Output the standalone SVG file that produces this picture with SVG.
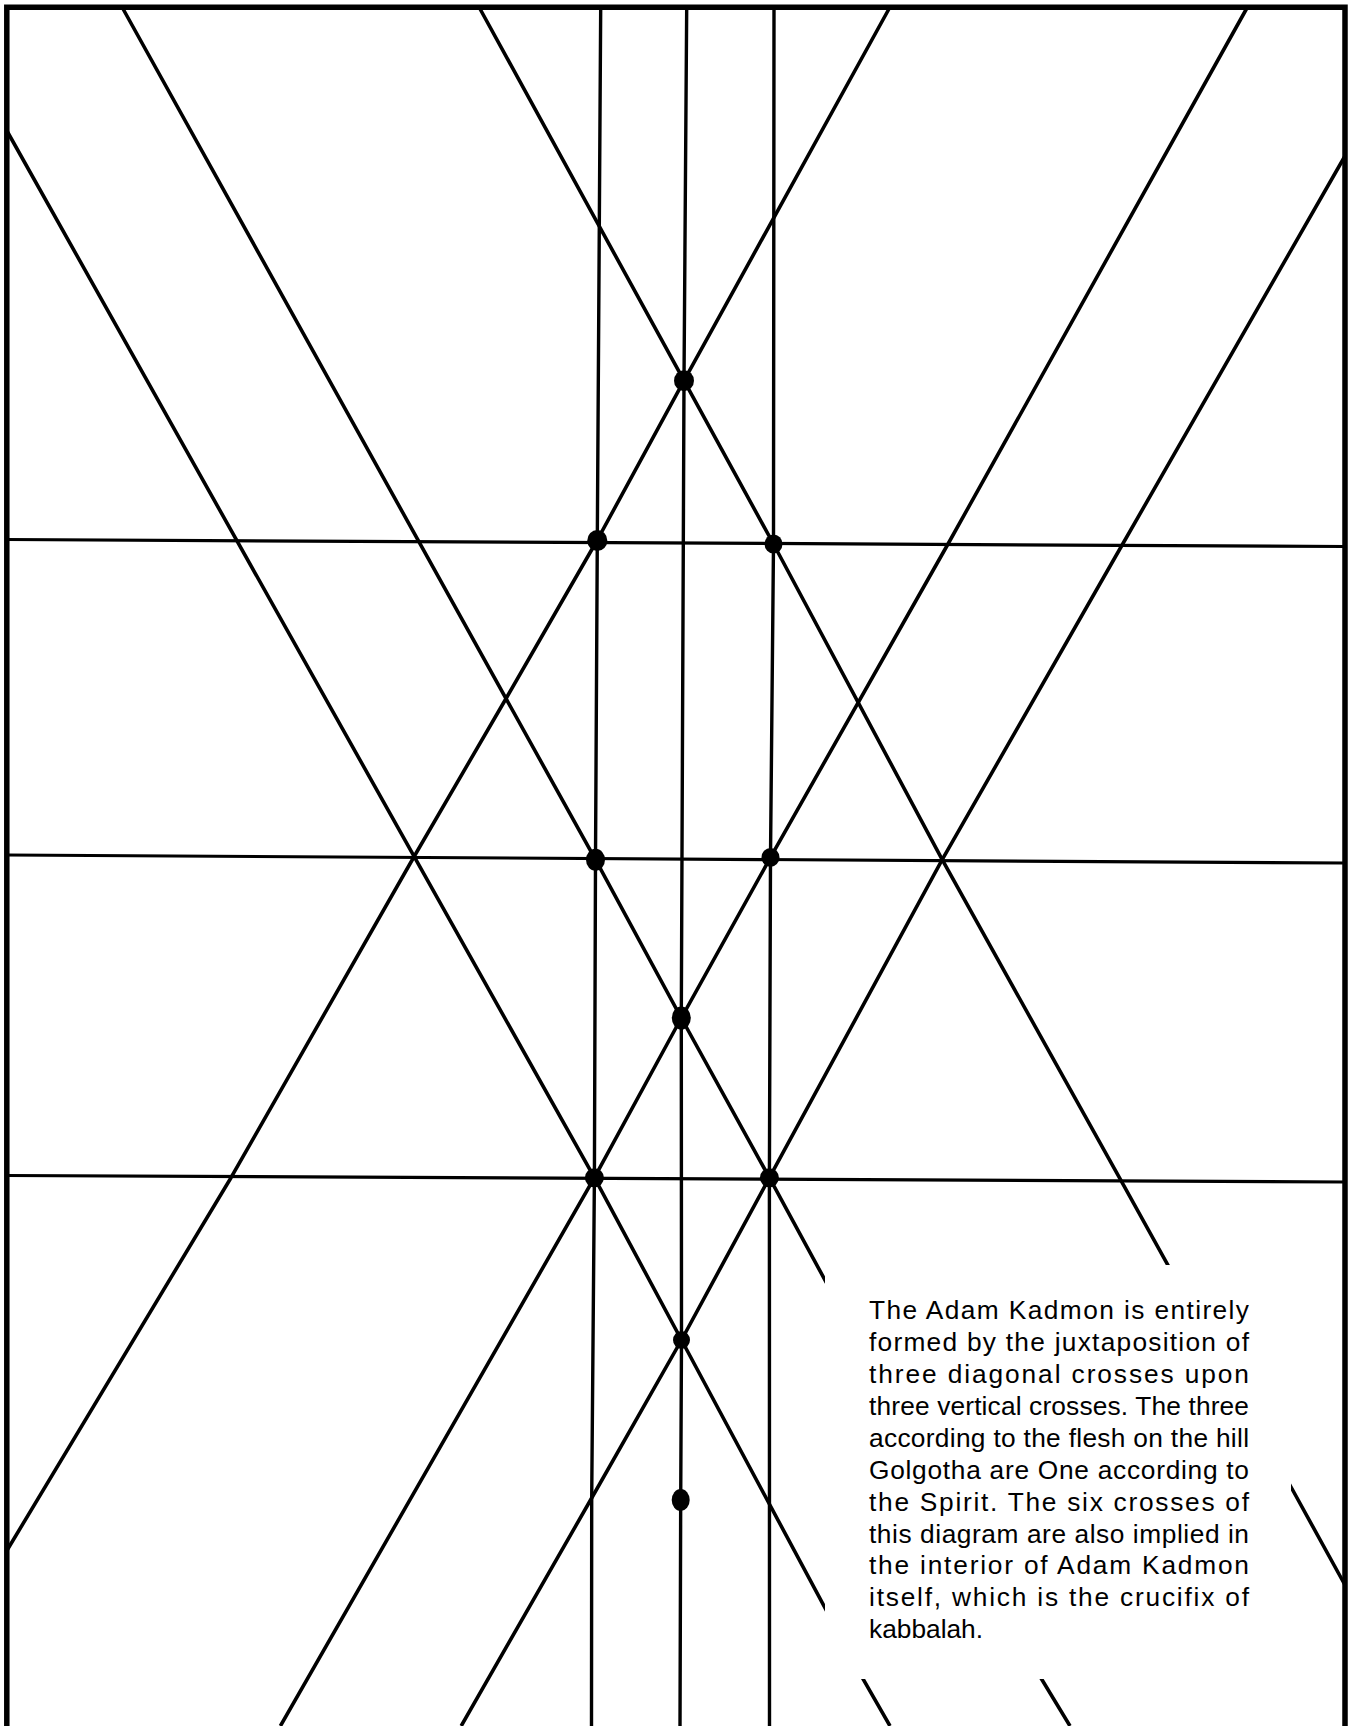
<svg xmlns="http://www.w3.org/2000/svg" width="1355" height="1726" viewBox="0 0 1355 1726">
<style>
.ln{fill:none;stroke:#000;stroke-width:3.6;stroke-linejoin:round}
.vt{fill:none;stroke:#000;stroke-width:3.4;stroke-linejoin:round}
.hz{fill:none;stroke:#000;stroke-width:3.2}
.fr{fill:none;stroke:#000;stroke-width:5.5}
.dot{fill:#000}
.txt{font-family:"Liberation Sans",Arial,sans-serif;font-size:26.3px;fill:#000}
</style>
<rect width="1355" height="1726" fill="#fff"/>
<g id="connectors">
<g id="verticals">
<polyline class="vt" points="600.7,7 597.3,540 595.5,860 594.4,1177.7 591.7,1498 591.5,1726"/>
<polyline class="vt" points="686.7,7 684,380.7 681.3,1018 681.5,1340 680.7,1500 680,1726"/>
<polyline class="vt" points="774,7 773.5,544 770.5,857.4 769.4,1177.7 769.5,1726"/>
</g>
<g id="horizontals">
<line class="hz" x1="7" y1="539.5" x2="1345" y2="546.5"/>
<line class="hz" x1="7" y1="855" x2="1345" y2="863"/>
<line class="hz" x1="7" y1="1175.5" x2="1345" y2="1182"/>
</g>
<g id="diagonals">
<polyline class="ln" points="7,131 594.4,1177.7 681.5,1340 863.3,1679.3 890,1726"/>
<polyline class="ln" points="122,7 595.5,859.7 681.3,1018 769.4,1177.7 1041.7,1679.3 1070,1726"/>
<polyline class="ln" points="479,7 684,380.7 773.5,544 942.2,859.7 1119.4,1177.7 1291,1487 1345,1585"/>
<polyline class="ln" points="890,7 684,380.7 597.3,540 505.2,700 415,855 231,1177.7 6,1552"/>
<polyline class="ln" points="1247.5,7 948,544 770.5,857.4 681.3,1018 594.4,1177.7 280.4,1726"/>
<polyline class="ln" points="1345,156 1122.7,544 942.2,859.7 769.4,1177.7 681.5,1340 591.7,1498 461.2,1726"/>
</g>
</g>
<g id="dots">
<ellipse id="d1" class="dot" cx="684" cy="380.7" rx="10" ry="10.5"/>
<ellipse id="d2" class="dot" cx="597.3" cy="540.5" rx="10" ry="10.5"/>
<ellipse id="d3" class="dot" cx="773.5" cy="544" rx="9" ry="9.5"/>
<ellipse id="d4" class="dot" cx="595.5" cy="859.7" rx="9.5" ry="11"/>
<ellipse id="d5" class="dot" cx="770.5" cy="857.4" rx="9" ry="9.5"/>
<ellipse id="d6" class="dot" cx="681.3" cy="1018" rx="9.5" ry="11.5"/>
<ellipse id="d7" class="dot" cx="594.4" cy="1177.7" rx="9.5" ry="9.5"/>
<ellipse id="d8" class="dot" cx="769.4" cy="1177.7" rx="9.5" ry="9.5"/>
<ellipse id="d9" class="dot" cx="681.5" cy="1340" rx="8.5" ry="9"/>
<ellipse id="d10" class="dot" cx="680.7" cy="1500" rx="9" ry="11"/>
</g>
<g id="text-panel">
<rect x="825" y="1265" width="466" height="414" fill="#fff"/>
<text class="txt">
<tspan x="869" y="1319" textLength="380" lengthAdjust="spacing">The Adam Kadmon is entirely</tspan>
<tspan x="869" y="1350.9" textLength="380" lengthAdjust="spacing">formed by the juxtaposition of</tspan>
<tspan x="869" y="1382.9" textLength="380" lengthAdjust="spacing">three diagonal crosses upon</tspan>
<tspan x="869" y="1414.8" textLength="380" lengthAdjust="spacing">three vertical crosses. The three</tspan>
<tspan x="869" y="1446.7" textLength="380" lengthAdjust="spacing">according to the flesh on the hill</tspan>
<tspan x="869" y="1478.7" textLength="380" lengthAdjust="spacing">Golgotha are One according to</tspan>
<tspan x="869" y="1510.6" textLength="380" lengthAdjust="spacing">the Spirit. The six crosses of</tspan>
<tspan x="869" y="1542.5" textLength="380" lengthAdjust="spacing">this diagram are also implied in</tspan>
<tspan x="869" y="1574.4" textLength="380" lengthAdjust="spacing">the interior of Adam Kadmon</tspan>
<tspan x="869" y="1606.4" textLength="380" lengthAdjust="spacing">itself, which is the crucifix of</tspan>
<tspan x="869" y="1638.3">kabbalah.</tspan>
</text>
</g>
<g id="frame">
<polyline class="fr" points="6.8,1726 6.8,7.2 1345,7.2 1345,1726"/>
</g>
</svg>
